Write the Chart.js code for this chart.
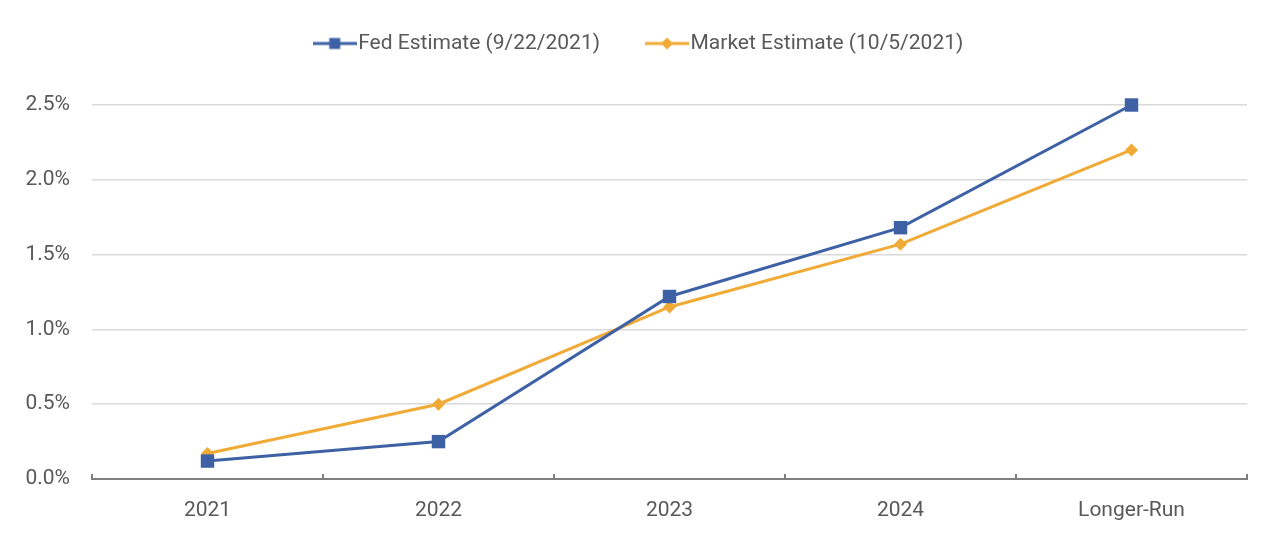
<!DOCTYPE html>
<html>
<head>
<meta charset="utf-8">
<script src="https://cdn.jsdelivr.net/npm/chart.js@4/dist/chart.umd.min.js"></script>
<style>
  html, body { margin: 0; padding: 0; background: #ffffff; }
  #wrap { width: 1282px; height: 538px; position: relative; }
</style>
</head>
<body>
<div id="wrap"><canvas id="c"></canvas></div>
<script>
const categories = ['2021', '2022', '2023', '2024', 'Longer-Run'];
const fedEstimate = [0.12, 0.25, 1.22, 1.68, 2.5];
const marketEstimate = [0.17, 0.5, 1.15, 1.57, 2.2];
const seriesNames = ['Fed Estimate (9/22/2021)', 'Market Estimate (10/5/2021)'];
const yTicks = [0, 0.5, 1.0, 1.5, 2.0, 2.5];

const FED = '#3e61a6';
const MKT = '#f0aa35';
const TXT = '#595959';
const FONT = 'Roboto, "Liberation Sans", sans-serif';
const FS = 21;

function legendIcon(color, shape) {
  const c = document.createElement('canvas');
  c.width = 44; c.height = 14;
  const g = c.getContext('2d');
  g.strokeStyle = color; g.lineWidth = 3;
  g.beginPath(); g.moveTo(0, 7); g.lineTo(44, 7); g.stroke();
  g.fillStyle = color;
  if (shape === 'rect') {
    g.fillRect(22 - 5.5, 7 - 5.5, 11, 11);
  } else {
    g.beginPath();
    g.moveTo(22, 1); g.lineTo(28, 7); g.lineTo(22, 13); g.lineTo(16, 7);
    g.closePath(); g.fill();
  }
  return c;
}
const icons = [legendIcon(FED, 'rect'), legendIcon(MKT, 'diamond')];

const axisTicksPlugin = {
  id: 'axisTicks',
  afterDatasetsDraw(chart) {
    const xs = chart.scales.x;
    const ctx = chart.ctx;
    const n = categories.length;
    const bottom = chart.chartArea.bottom;
    ctx.save();
    ctx.strokeStyle = '#7f7f7f';
    ctx.lineWidth = 2;
    for (let i = 0; i <= n; i++) {
      const x = xs.left + i * (xs.right - xs.left) / n;
      ctx.beginPath();
      ctx.moveTo(x, bottom + 1);
      ctx.lineTo(x, bottom - 5);
      ctx.stroke();
    }
    ctx.restore();
  }
};

const legendFitPlugin = {
  id: 'legendFit',
  beforeInit(chart) {
    const orig = chart.legend.fit;
    chart.legend.fit = function () {
      orig.bind(chart.legend)();
      this.height = 126;
    };
  },
  afterLayout(chart) {
    chart.legend.left += 19;
    chart.legend.right += 19;
  }
};

new Chart(document.getElementById('c'), {
  type: 'line',
  data: {
    labels: categories,
    datasets: [
      {
        label: seriesNames[0],
        data: fedEstimate,
        borderColor: FED,
        backgroundColor: FED,
        borderWidth: 3,
        pointStyle: 'rect',
        pointRadius: 9.5,
        pointHoverRadius: 9.5,
        pointBorderWidth: 0,
        tension: 0,
        clip: false
      },
      {
        label: seriesNames[1],
        data: marketEstimate,
        borderColor: MKT,
        backgroundColor: MKT,
        borderWidth: 3,
        pointStyle: 'rectRot',
        pointRadius: 6.5,
        pointHoverRadius: 6.5,
        pointBorderWidth: 0,
        tension: 0,
        clip: false
      }
    ]
  },
  options: {
    responsive: true,
    maintainAspectRatio: false,
    animation: false,
    layout: { padding: { top: -21, left: 0, right: 35, bottom: 0 } },
    plugins: {
      tooltip: { enabled: false },
      legend: {
        position: 'top',
        labels: {
          usePointStyle: true,
          pointStyleWidth: 26,
          padding: 54,
          color: TXT,
          font: { family: FONT, size: FS },
          generateLabels(chart) {
            return chart.data.datasets.map((ds, i) => ({
              text: ds.label,
              fillStyle: ds.backgroundColor,
              strokeStyle: ds.borderColor,
              lineWidth: 0,
              pointStyle: icons[i],
              fontColor: TXT,
              hidden: false,
              datasetIndex: i
            }));
          }
        }
      }
    },
    scales: {
      x: {
        offset: true,
        grid: { display: false },
        border: { display: true, color: '#7f7f7f', width: 2 },
        ticks: { color: TXT, font: { family: FONT, size: FS }, padding: 11, maxRotation: 0 },
        afterFit(scale) { scale.height = 59; }
      },
      y: {
        min: 0,
        max: 2.5,
        afterBuildTicks(scale) { scale.ticks = yTicks.map(v => ({ value: v })); },
        grid: {
          drawTicks: false,
          lineWidth: 1.5,
          color: (c) => (c.tick && c.tick.value === 0) ? 'rgba(0,0,0,0)' : '#d9d9d9'
        },
        border: { display: false },
        ticks: {
          color: TXT,
          font: { family: FONT, size: FS },
          padding: 22,
          callback: (v) => Number(v).toFixed(1) + '%'
        },
        afterFit(scale) { scale.width = 92; }
      }
    }
  },
  plugins: [axisTicksPlugin, legendFitPlugin]
});
</script>
</body>
</html>
